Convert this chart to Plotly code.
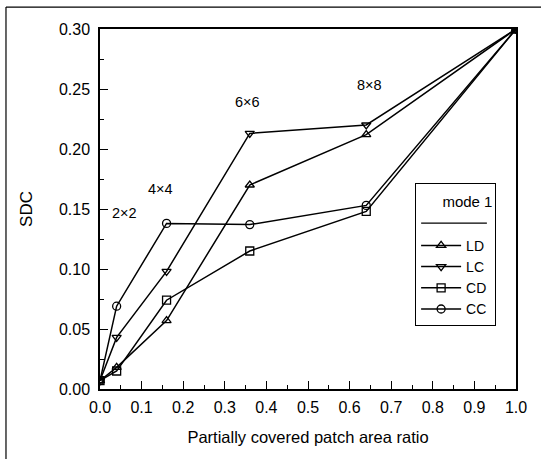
import plotly.graph_objects as go

x_vals = [0.0, 0.04, 0.16, 0.36, 0.64, 1.0]
ld = [0.007, 0.018, 0.057, 0.170, 0.212, 0.300]
lc = [0.007, 0.043, 0.098, 0.213, 0.220, 0.300]
cd = [0.007, 0.015, 0.074, 0.115, 0.148, 0.300]
cc = [0.007, 0.069, 0.138, 0.137, 0.153, 0.300]

series_names = ["LD", "LC", "CD", "CC"]
series_vals = [ld, lc, cd, cc]
series_symbols = ["triangle-up-open", "triangle-down-open", "square-open", "circle-open"]

ann_labels = ["2×2", "4×4", "6×6", "8×8"]
ann_x = [0.058, 0.146, 0.355, 0.647]
ann_y = [0.147, 0.167, 0.239, 0.253]

x_ticks = [round(i * 0.1, 1) for i in range(11)]
y_ticks = [0.00, 0.05, 0.10, 0.15, 0.20, 0.25, 0.30]

FONT = "Liberation Sans, Arial, sans-serif"

fig = go.Figure()
for name, vals, sym in zip(series_names, series_vals, series_symbols):
    fig.add_trace(go.Scatter(
        x=x_vals, y=vals, name=name, mode="lines+markers",
        line=dict(color="black", width=1.5),
        marker=dict(symbol=sym, size=8, color="black", line=dict(width=1.3, color="black")),
    ))

for t, ax, ay in zip(ann_labels, ann_x, ann_y):
    fig.add_annotation(x=ax, y=ay, text=t, showarrow=False,
                       font=dict(family=FONT, size=14.5, color="black"))

axis_common = dict(
    showline=True, linecolor="black", linewidth=1.5, mirror=True,
    ticks="inside", ticklen=8, tickwidth=1.3, tickcolor="black",
    showgrid=False, zeroline=False,
    tickfont=dict(family=FONT, size=16, color="black"),
)

fig.update_xaxes(
    range=[0, 1.0], tickvals=x_ticks, ticktext=[f"{v:.1f}" for v in x_ticks],
    minor=dict(ticks="inside", ticklen=4, tickwidth=1.2, tickcolor="black", dtick=0.05, tick0=0),
    title=dict(text="Partially covered patch area ratio", font=dict(family=FONT, size=16.5, color="black"), standoff=16),
    ticklabelstandoff=3,
    **axis_common,
)
fig.update_yaxes(
    range=[0, 0.30], tickvals=y_ticks, ticktext=[f"{v:.2f}" for v in y_ticks],
    minor=dict(ticks="inside", ticklen=4, tickwidth=1.2, tickcolor="black", dtick=0.025, tick0=0),
    title=dict(text="SDC", font=dict(family=FONT, size=17, color="black"), standoff=22),
    ticklabelstandoff=5,
    **axis_common,
)

# outer figure frame (left and top edges visible)
fig.add_shape(type="line", xref="paper", yref="paper", x0=-0.226, x1=1.2, y0=1.061, y1=1.061,
              line=dict(color="black", width=1.2))
fig.add_shape(type="line", xref="paper", yref="paper", x0=-0.226, x1=-0.226, y0=1.061, y1=-0.3,
              line=dict(color="black", width=1.2))
# line under legend title
fig.add_shape(type="line", xref="paper", yref="paper", x0=0.772, x1=0.93, y0=0.461, y1=0.461,
              line=dict(color="black", width=1.2))

fig.update_layout(
    width=541, height=459,
    margin=dict(l=100, r=25, t=29, b=70),
    paper_bgcolor="white", plot_bgcolor="white",
    font=dict(family=FONT, color="black"),
    legend=dict(
        x=0.757, y=0.572, xanchor="left", yanchor="top",
        bordercolor="black", borderwidth=1.2, bgcolor="rgba(0,0,0,0)",
        font=dict(family=FONT, size=14, color="black"),
        title=dict(text="     <span style='font-size:15px'>mode 1</span><br> ",
                   font=dict(family=FONT, size=17.5, color="black")),
        tracegroupgap=0, itemwidth=40,
    ),
)

fig.write_html("out.html")
